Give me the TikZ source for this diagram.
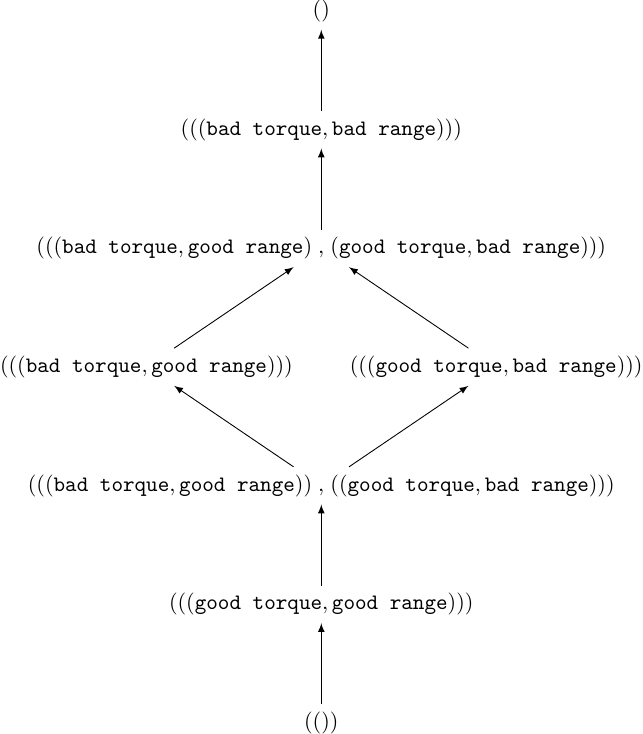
\documentclass[tikz,border=0pt]{standalone}
\usepackage{tikz}
\tikzset{% change default arrow tips
    >=latex
}
\usepackage{amsmath}

\begin{document}
\begin{tikzpicture}
		\newcommand{\vsp}{1.8915}
		\newcommand{\hsp}{2.7875}
		\newcommand{\gt}{\texttt{good torque}}
		\newcommand{\bt}{\texttt{bad torque}}
		\newcommand{\gr}{\texttt{good range}}
		\newcommand{\br}{\texttt{bad range}}
		\newcommand{\sep}{\mathrel{,}}

		% fix the margins
		\useasboundingbox (-5.1215,-0.1757) rectangle (5.1215,6*\vsp+0.1757);

		% nodes
		\node (empty) at (0,0) {$(())$};
		\node (gg) at (0,\vsp) {$(((\gt,\gr)))$};
		\node (both) at (0,2*\vsp) {$(((\bt,\gr))\sep((\gt,\br)))$};
		\node (bg) at (-\hsp,3*\vsp) {$(((\bt,\gr)))$};
		\node (gb) at (\hsp,3*\vsp) {$(((\gt,\br)))$};
		\node (pair) at (0,4*\vsp) {$(((\bt,\gr)\sep(\gt,\br)))$};
		\node (bb) at (0,5*\vsp) {$(((\bt,\br)))$};
		\node (top) at (0,6*\vsp) {$()$};

		% arrows
		\draw[->] (empty) -- (gg);
		\draw[->] (gg) -- (both);
		\draw[->] (both) -- (bg);
		\draw[->] (both) -- (gb);
		\draw[->] (bg) -- (pair);
		\draw[->] (gb) -- (pair);
		\draw[->] (pair) -- (bb);
		\draw[->] (bb) -- (top);

\end{tikzpicture}
\end{document}
